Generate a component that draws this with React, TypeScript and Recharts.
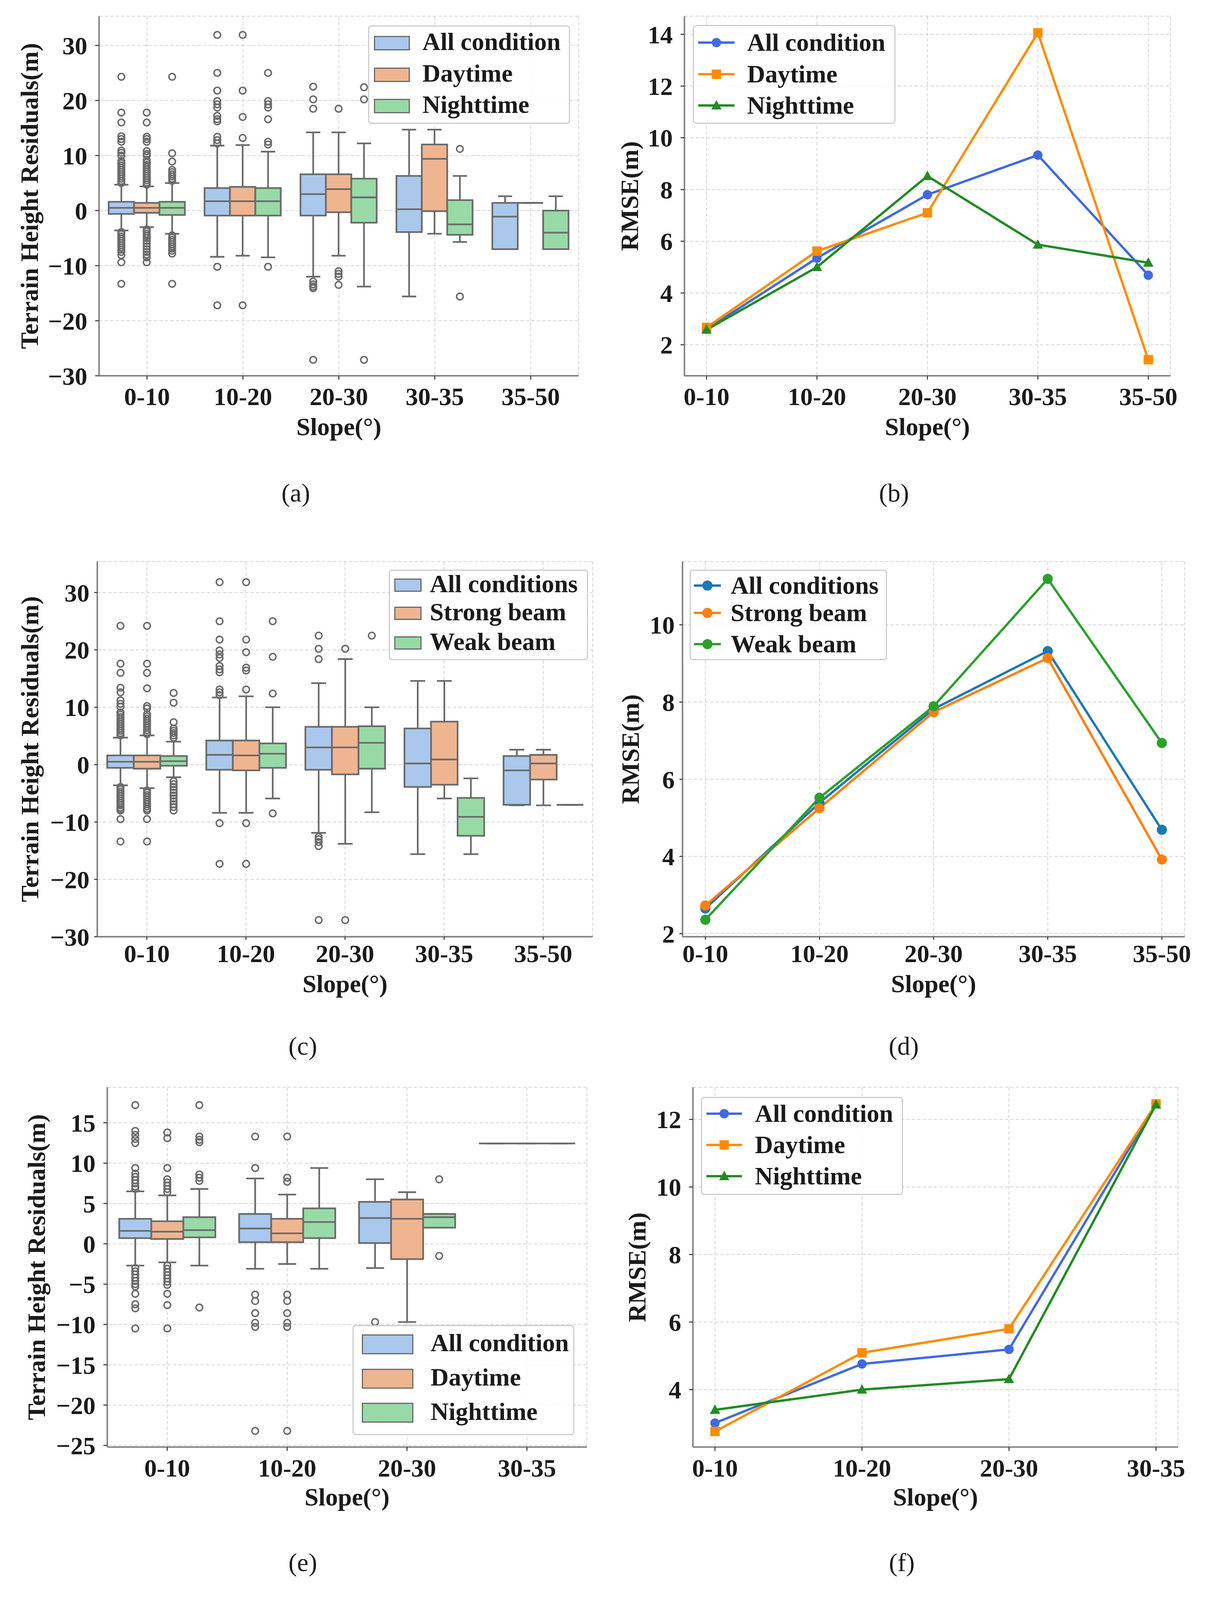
import React from "react";
import { ComposedChart, Bar, Line, XAxis, YAxis, CartesianGrid, Legend } from "recharts";

const FONT = "'Liberation Serif', 'Times New Roman', Times, serif";
const INK = "#1a1a1a";
const EDGE = "#6a6a6a";
const FRAME = "#858585";
const GRID = "#d4d4d4";
const FS = 64;

// ---------------- categories / names ----------------
const SLOPE5 = ["0-10", "10-20", "20-30", "30-35", "35-50"];
const SLOPE4 = ["0-10", "10-20", "20-30", "30-35"];
const NAMES_DN = ["All condition", "Daytime", "Nighttime"];
const NAMES_BEAM = ["All conditions", "Strong beam", "Weak beam"];
const PASTEL = ["#aac8eb", "#efb590", "#97daa6"];
const LINE_DN = ["#4169e1", "#ff8c00", "#228b22"];
const LINE_TAB = ["#1f77b4", "#ff7f0e", "#2ca02c"];

// ---------------- tick values ----------------
const TICKS_30 = [-30, -20, -10, 0, 10, 20, 30];
const TICKS_25 = [-25, -20, -15, -10, -5, 0, 5, 10, 15];
const TICKS_B = [2, 4, 6, 8, 10, 12, 14];
const TICKS_D = [2, 4, 6, 8, 10];
const TICKS_FH = [4, 6, 8, 10, 12];

// ---------------- (a) box stats: [whiskerLow, q1, median, q3, whiskerHigh] ----------------
const A_ALL = [[-3.6, -0.6, 0.5, 1.6, 4.7], [-8.4, -0.9, 1.7, 4.1, 11.8], [-12.0, -0.9, 3.0, 6.6, 14.2], [-15.6, -3.9, 0.25, 6.3, 14.7], [-7.0, -7.0, -1.1, 1.4, 2.6]];
const A_DAY = [[-3.0, -0.4, 0.5, 1.4, 4.4], [-8.2, -0.9, 1.7, 4.3, 11.9], [-8.2, -0.3, 3.9, 6.6, 14.2], [-4.2, -0.1, 9.4, 12.0, 14.7], [1.4, 1.4, 1.4, 1.4, 1.4]];
const A_NIGHT = [[-4.2, -0.8, 0.5, 1.6, 5.0], [-8.5, -0.9, 1.7, 4.1, 10.7], [-13.8, -2.2, 2.4, 5.8, 12.2], [-5.7, -4.4, -2.5, 1.9, 6.3], [-7.0, -7.0, -4.0, 0.0, 2.6]];
const A_ALL_OUT = [
  [24.3, 17.8, 16.0, 13.5, 13.0, 12.5, 10.9, 10.5, 10.0, 9.0, 8.6, 8.2, 7.8, 7.4, 7.0, 6.6, 6.2, 5.8, 5.4, 5.0, -3.9, -4.3, -4.7, -5.1, -5.5, -5.9, -6.3, -6.7, -7.1, -7.5, -8.1, -9.4, -13.3],
  [31.9, 25.0, 21.8, 19.9, 19.3, 18.7, 17.2, 16.6, 16.2, 13.4, 12.8, 12.2, -10.2, -17.2],
  [22.5, 20.2, 18.5, -12.9, -13.4, -13.8, -14.1, -27.1],
  [],
  [],
];
const A_DAY_OUT = [
  [17.8, 16.0, 13.4, 13.0, 12.5, 10.8, 10.3, 10.0, 9.2, 8.7, 8.3, 7.9, 7.5, 7.1, 6.7, 6.3, 5.9, 5.5, 5.1, 4.7, -3.4, -3.8, -4.2, -4.6, -5.0, -5.5, -6.0, -6.5, -7.0, -7.5, -8.0, -8.5, -9.4],
  [31.9, 21.8, 17.0, 13.2, -17.2],
  [18.5, -11.0, -11.5, -12.0, -13.5],
  [],
  [],
];
const A_NIGHT_OUT = [
  [24.3, 10.4, 8.9, 7.4, 7.0, 6.6, 6.2, 5.8, 5.4, -4.5, -4.9, -5.3, -5.7, -6.1, -6.5, -6.9, -7.3, -7.8, -13.3],
  [25.0, 19.9, 19.3, 18.7, 16.6, 12.5, 12.0, -10.2],
  [22.4, 20.2, -27.1],
  [11.2, -15.6],
  [],
];

// ---------------- (b) RMSE ----------------
const B_ALL = [2.6, 5.35, 7.8, 9.33, 4.69];
const B_DAY = [2.67, 5.62, 7.1, 14.06, 1.42];
const B_NIGHT = [2.58, 5.0, 8.52, 5.87, 5.17];

// ---------------- (c) box stats ----------------
const C_ALL = [[-3.6, -0.55, 0.5, 1.6, 4.7], [-8.4, -0.9, 1.7, 4.2, 11.7], [-11.9, -0.9, 3.0, 6.6, 14.2], [-15.6, -3.9, 0.2, 6.3, 14.6], [-7.1, -7.0, -1.0, 1.5, 2.6]];
const C_STRONG = [[-4.1, -0.7, 0.5, 1.6, 5.1], [-8.4, -1.0, 1.6, 4.2, 11.9], [-13.8, -1.7, 3.0, 6.6, 18.4], [-5.9, -3.5, 0.9, 7.5, 14.6], [-7.1, -2.6, 0.2, 1.7, 2.6]];
const C_WEAK = [[-2.2, -0.2, 0.6, 1.5, 4.0], [-5.9, -0.55, 1.9, 3.7, 10.0], [-8.3, -0.7, 3.8, 6.7, 10.0], [-15.6, -12.4, -9.1, -5.8, -2.4], [-7.0, -7.0, -7.0, -7.0, -7.0]];
const C_ALL_OUT = [
  [24.2, 17.6, 16.0, 13.4, 12.6, 11.2, 10.6, 10.1, 9.1, 8.7, 8.3, 7.9, 7.5, 7.1, 6.7, 6.3, 5.9, 5.5, 5.1, -3.9, -4.3, -4.7, -5.1, -5.5, -5.9, -6.3, -6.7, -7.1, -7.5, -7.8, -8.0, -9.5, -13.4],
  [31.8, 25.0, 21.8, 19.9, 19.2, 18.6, 17.2, 16.6, 16.1, 13.1, 12.6, 12.1, -10.2, -17.3],
  [22.5, 20.2, 18.4, -12.6, -13.0, -13.5, -14.2, -27.1],
  [],
  [],
];
const C_STRONG_OUT = [
  [24.2, 17.6, 16.0, 13.3, 10.2, 9.8, 8.8, 8.4, 8.0, 7.6, 7.2, 6.8, 6.4, 6.0, 5.6, 5.3, -4.5, -4.9, -5.3, -5.7, -6.1, -6.5, -6.9, -7.3, -7.7, -8.0, -9.5, -13.4],
  [31.8, 21.8, 19.6, 16.9, 16.4, 13.1, -10.2, -17.3],
  [20.2, -27.1],
  [],
  [],
];
const C_WEAK_OUT = [
  [12.5, 10.8, 7.4, 6.3, 5.9, 5.5, 5.1, 4.7, -2.9, -3.4, -3.9, -4.4, -4.9, -5.4, -5.9, -6.4, -6.9, -7.4, -8.0],
  [25.0, 18.8, 12.4, -8.5],
  [22.5],
  [],
  [],
];

// ---------------- (d) RMSE ----------------
const D_ALL = [2.65, 5.39, 7.82, 9.32, 4.69];
const D_STRONG = [2.73, 5.25, 7.74, 9.14, 3.92];
const D_WEAK = [2.36, 5.52, 7.89, 11.19, 6.94];

// ---------------- (e) box stats ----------------
const E_ALL = [[-2.7, 0.7, 1.6, 3.1, 6.5], [-3.1, 0.2, 1.9, 3.7, 8.1], [-3.0, 0.1, 3.2, 5.2, 8.0], [12.45, 12.45, 12.45, 12.45, 12.45]];
const E_DAY = [[-2.3, 0.6, 1.5, 2.8, 6.0], [-2.5, 0.2, 1.3, 3.1, 6.1], [-9.7, -1.9, 3.1, 5.5, 6.4], [12.45, 12.45, 12.45, 12.45, 12.45]];
const E_NIGHT = [[-2.7, 0.8, 1.7, 3.3, 6.8], [-3.1, 0.7, 2.7, 4.4, 9.4], [2.0, 2.0, 3.3, 3.7, 3.7], [12.45, 12.45, 12.45, 12.45, 12.45]];
const E_ALL_OUT = [
  [17.2, 14.0, 13.5, 13.0, 12.5, 9.4, 8.7, 8.3, 7.9, 7.5, 7.1, 6.8, -3.0, -3.4, -3.8, -4.2, -4.6, -5.0, -5.3, -6.2, -7.5, -8.0, -10.5],
  [13.3, 9.4, -6.3, -7.1, -8.6, -9.8, -10.3, -23.2],
  [-9.7],
  [],
];
const E_DAY_OUT = [
  [13.8, 13.1, 9.4, 8.0, 7.6, 7.2, 6.8, 6.4, -2.7, -3.1, -3.5, -3.9, -4.3, -4.7, -5.1, -6.2, -7.6, -10.5],
  [13.3, 8.2, 7.7, -6.3, -7.1, -8.6, -9.8, -10.3, -23.2],
  [],
  [],
];
const E_NIGHT_OUT = [
  [17.2, 13.3, 12.9, 12.6, 8.6, 8.2, 7.8, -7.9],
  [],
  [8.0, -1.5],
  [],
];

// ---------------- (f) RMSE ----------------
const F_ALL = [3.01, 4.76, 5.19, 12.46];
const F_DAY = [2.76, 5.09, 5.8, 12.46];
const F_NIGHT = [3.4, 4.0, 4.31, 12.44];

// ---------------- (g) box stats ----------------
const G_ALL = [[-2.6, 0.7, 1.55, 3.0, 6.5], [-3.1, 0.26, 1.9, 3.6, 8.1], [-3.0, 0.04, 3.2, 5.2, 8.0], [12.5, 12.5, 12.5, 12.5, 12.5]];
const G_STRONG = [[-2.7, 0.7, 1.55, 3.0, 6.5], [-3.1, 0.26, 2.0, 3.7, 8.1], [-1.5, 0.04, 1.95, 4.6, 6.5], [12.5, 12.5, 12.5, 12.5, 12.5]];
const G_WEAK = [[-1.8, 0.96, 1.7, 3.0, 6.0], [-2.5, 0.26, 1.5, 3.5, 8.0], [-3.0, 2.0, 4.1, 5.4, 8.0], null];
const G_ALL_OUT = [
  [17.3, 13.9, 13.4, 12.9, 12.4, 9.5, 8.7, 8.3, 7.9, 7.5, 7.1, 6.7, -2.9, -3.3, -3.7, -4.1, -4.5, -4.9, -5.3, -6.2, -7.6, -7.9, -10.5],
  [13.3, 9.5, -6.2, -6.8, -7.2, -8.6, -9.8, -10.3, -23.2],
  [-9.7],
  [],
];
const G_STRONG_OUT = [
  [17.3, 13.9, 13.4, 12.9, 12.4, 9.5, 8.7, 8.3, 7.9, 7.5, 7.1, 6.7, -3.0, -3.4, -3.8, -4.2, -4.6, -5.0, -5.3, -6.2, -7.6, -7.9, -10.5],
  [13.3, 9.5, -6.2, -6.8, -7.2, -8.6, -9.8, -10.3, -23.2],
  [-9.7],
  [],
];
const G_WEAK_OUT = [
  [12.7, 8.6, 8.2, 8.0, 6.9, 6.5],
  [],
  [],
  [],
];

// ---------------- (h) RMSE ----------------
const H_ALL = [3.0, 4.79, 5.19, 12.44];
const H_STRONG = [3.08, 5.19, 5.21, 12.44];
const H_WEAK = [2.79, 2.94, 5.17, null];

// ---------------- layout (page pixels) ----------------
const GEOM = {
  a: { left: 0, top: 0, width: 1540, height: 1200, x0: 253.5, y0: 41.5, x1: 1481, y1: 962, yLabelX: 75, xLabelY: 1092, ts: 10, tm: 20,
    lg: { x: 942, y: 65, w: 517, h: 252, rows: [107, 188, 268], px: 957, pw: 86, ph: 31, tx: 1081 }, cap: { x: 757, y: 1262, t: "(a)" } },
  b: { left: 1540, top: 0, width: 1544, height: 1200, x0: 1751.7, y0: 41.5, x1: 2995.4, y1: 962, yLabelX: 1611, xLabelY: 1092, ts: 10, tm: 20,
    lg: { x: 1772.5, y: 64, w: 519, h: 253, rows: [109, 190, 270], px: 1787, pw: 93, ph: 0, tx: 1912 }, cap: { x: 2288, y: 1262, t: "(b)" } },
  c: { left: 0, top: 1380, width: 1540, height: 1250, x0: 249, y0: 1437.6, x1: 1517, y1: 2398, yLabelX: 76.5, xLabelY: 2518, ts: 8, tm: 12,
    lg: { x: 995, y: 1457.5, w: 510, h: 232, rows: [1495, 1567, 1643], px: 1009, pw: 64, ph: 28, tx: 1100 }, cap: { x: 775, y: 2678, t: "(c)" } },
  d: { left: 1540, top: 1380, width: 1544, height: 1250, x0: 1746.8, y0: 1437.6, x1: 3032, y1: 2398, yLabelX: 1614, xLabelY: 2518, ts: 8, tm: 12,
    lg: { x: 1764.5, y: 1457.5, w: 505, h: 232, rows: [1499, 1569, 1649], px: 1776, pw: 69, ph: 0, tx: 1870 }, cap: { x: 2313, y: 2678, t: "(d)" } },
  e: { left: 0, top: 2730, width: 1540, height: 1250, x0: 274.5, y0: 2783.6, x1: 1502, y1: 3704.4, yLabelX: 93, xLabelY: 3832, ts: 10, tm: 20,
    lg: { x: 902, y: 3392, w: 568, h: 282, rows: [3438, 3526, 3613.5], px: 926, pw: 126, ph: 45, tx: 1102 }, cap: { x: 775, y: 4000, t: "(e)" } },
  f: { left: 1540, top: 2730, width: 1544, height: 1250, x0: 1773.4, y0: 2783.6, x1: 3015, y1: 3704.4, yLabelX: 1630.6, xLabelY: 3832, ts: 10, tm: 20,
    lg: { x: 1794, y: 2807.5, w: 517, h: 251, rows: [2851, 2931, 3011], px: 1808, pw: 91, ph: 0, tx: 1932 }, cap: { x: 2308, y: 4000, t: "(f)" } },
  g: { left: 0, top: 4050, width: 1540, height: 1250, x0: 249.7, y0: 4099.7, x1: 1516, y1: 5058.7, yLabelX: 81, xLabelY: 5181, ts: 8, tm: 12,
    lg: { x: 995, y: 4809, w: 510, h: 233, rows: [4855, 4925, 4996.5], px: 1009, pw: 64, ph: 24, tx: 1100 }, cap: { x: 773, y: 5334, t: "(g)" } },
  h: { left: 1540, top: 4050, width: 1544, height: 1250, x0: 1747.8, y0: 4099.7, x1: 3032, y1: 5058.7, yLabelX: 1614, xLabelY: 5178, ts: 8, tm: 12,
    lg: { x: 1764.5, y: 4115.6, w: 505, h: 233, rows: [4153, 4231, 4305], px: 1776, pw: 69, ph: 0, tx: 1870 }, cap: { x: 2311, y: 5334, t: "(h)" } },
};

const textStyle = { fontFamily: FONT, fontSize: FS, fontWeight: 700, fill: INK } as any;
const minus = (v: any) => String(v).replace("-", "\u2212");

function yLabel(text: string, cx: number) {
  return (props: any) => {
    const vb = props.viewBox || {};
    const cy = vb.y + vb.height / 2;
    return (
      <text x={cx} y={cy} transform={`rotate(-90 ${cx} ${cy})`} textAnchor="middle" dominantBaseline="central" style={textStyle}>
        {text}
      </text>
    );
  };
}
function xLabel(text: string, cy: number) {
  return (props: any) => {
    const vb = props.viewBox || {};
    const cx = vb.x + vb.width / 2;
    return (
      <text x={cx} y={cy} textAnchor="middle" dominantBaseline="central" style={textStyle}>
        {text}
      </text>
    );
  };
}

function marker(kind: string, cx: number, cy: number, color: string, s: number) {
  if (kind === "square") return <rect x={cx - s} y={cy - s} width={2 * s} height={2 * s} fill={color} />;
  if (kind === "triangle")
    return <path d={`M${cx},${cy - s * 1.15}L${cx + s * 1.1},${cy + s * 0.85}L${cx - s * 1.1},${cy + s * 0.85}Z`} fill={color} />;
  return <circle cx={cx} cy={cy} r={s} fill={color} />;
}

function boxShape(key: string, dmin: number, dmax: number, color: string) {
  return (props: any) => {
    const { x, y, width, height, payload } = props;
    const item = payload && payload[key];
    if (!item || !(height > 0)) return <g />;
    const py = (v: number) => y + ((dmax - v) / (dmax - dmin)) * height;
    const [lo, q1, med, q3, hi] = item.stats;
    const cx = x + width / 2;
    const ch = width * 0.28;
    const lw = 4.3;
    return (
      <g>
        <line x1={cx} x2={cx} y1={py(q3)} y2={py(hi)} stroke={EDGE} strokeWidth={lw} />
        <line x1={cx} x2={cx} y1={py(q1)} y2={py(lo)} stroke={EDGE} strokeWidth={lw} />
        <line x1={cx - ch} x2={cx + ch} y1={py(hi)} y2={py(hi)} stroke={EDGE} strokeWidth={lw} />
        <line x1={cx - ch} x2={cx + ch} y1={py(lo)} y2={py(lo)} stroke={EDGE} strokeWidth={lw} />
        <path d={`M${x},${py(q3)}H${x + width}V${py(q1)}H${x}Z`} fill={color} stroke={EDGE} strokeWidth={lw} />
        <line x1={x} x2={x + width} y1={py(med)} y2={py(med)} stroke={EDGE} strokeWidth={lw} />
        {item.out.map((v: number, i: number) => (
          <circle key={i} cx={cx} cy={py(v)} r={8.5} fill="none" stroke={EDGE} strokeWidth={3.8} />
        ))}
      </g>
    );
  };
}

function legendBox(g: any, names: string[], colors: string[], kind: "box" | "line", markers?: string[], msize?: number) {
  const L = g.lg;
  const content = () => (
    <div
      style={{
        position: "relative", width: L.w, height: L.h, boxSizing: "border-box",
        border: "3.5px solid #cdcdcd", borderRadius: 8, background: "rgba(255,255,255,0.85)",
      }}
    >
      {names.map((n, i) => {
        const rowTop = L.rows[i] - L.y;
        return (
          <React.Fragment key={n}>
            {kind === "box" ? (
              <div
                style={{
                  position: "absolute", left: L.px - L.x - 3, top: rowTop - L.ph / 2 - 3, width: L.pw, height: L.ph,
                  background: colors[i], border: `3.5px solid ${EDGE}`, boxSizing: "content-box",
                }}
              />
            ) : (
              <svg style={{ position: "absolute", left: L.px - L.x - 3, top: rowTop - 30 - 3 }} width={L.pw} height={60}>
                <line x1={0} x2={L.pw} y1={30} y2={30} stroke={colors[i]} strokeWidth={6} strokeLinecap="round" />
                {marker(markers![i], L.pw / 2, 30, colors[i], msize!)}
              </svg>
            )}
            <div
              style={{
                position: "absolute", left: L.tx - L.x - 3, top: rowTop - 40 - 3, height: 80, lineHeight: "80px",
                whiteSpace: "nowrap", fontFamily: FONT, fontSize: FS, fontWeight: 700, color: INK,
              }}
            >
              {n}
            </div>
          </React.Fragment>
        );
      })}
    </div>
  );
  return (
    <Legend
      layout="vertical"
      align="center"
      verticalAlign="middle"
      content={content}
      wrapperStyle={{ position: "absolute", left: L.x - g.left, top: L.y - g.top, width: L.w, height: L.h, margin: 0, padding: 0 }}
    />
  );
}

function frameAxes(xType: "category" | "number", xDomain: any, yDomain: number[]) {
  const line = { stroke: FRAME, strokeWidth: 4 };
  return [
    xType === "category" ? (
      <XAxis key="xt" xAxisId="top" orientation="top" dataKey="cat" height={0} tick={false} tickLine={false} axisLine={line} />
    ) : (
      <XAxis key="xt" xAxisId="top" orientation="top" type="number" dataKey="i" domain={xDomain} allowDataOverflow height={0} tick={false} tickLine={false} axisLine={line} />
    ),
    <YAxis key="yr" yAxisId="r" orientation="right" type="number" domain={yDomain} allowDataOverflow width={0} tick={false} tickLine={false} axisLine={line} />,
  ];
}

function Caption({ g }: any) {
  return (
    <div
      style={{
        position: "absolute", left: g.cap.x - 100, top: g.cap.y - 45, width: 200, height: 90, lineHeight: "90px",
        textAlign: "center", fontFamily: FONT, fontSize: 66, color: INK,
      }}
    >
      {g.cap.t}
    </div>
  );
}

function BoxPanel({ g, cats, names, stats, outs, domain, ticks }: any) {
  const rows = cats.map((c: string, i: number) => {
    const r: any = { cat: c };
    names.forEach((_: string, k: number) => {
      const s = stats[k][i];
      r["s" + k] = s ? { stats: s, out: outs[k][i] } : null;
    });
    return r;
  });
  const dmin = domain[0];
  const dmax = domain[1];
  const tickLine = { stroke: "#333", strokeWidth: 2.5 };
  return (
    <>
      <div style={{ position: "absolute", left: g.left, top: g.top }}>
        <ComposedChart
          width={g.width}
          height={g.height}
          data={rows}
          barGap={0}
          barCategoryGap="10%"
          margin={{ top: g.y0 - g.top, right: g.left + g.width - g.x1, bottom: 0, left: 0 }}
        >
          <CartesianGrid stroke={GRID} strokeWidth={2} strokeDasharray="9 5" />
          <XAxis
            dataKey="cat"
            type="category"
            interval={0}
            height={g.top + g.height - g.y1}
            tick={textStyle}
            tickSize={g.ts}
            tickMargin={g.tm}
            tickLine={tickLine}
            axisLine={{ stroke: FRAME, strokeWidth: 4 }}
            label={xLabel("Slope(°)", g.xLabelY - g.top)}
          />
          <YAxis
            type="number"
            domain={domain}
            allowDataOverflow
            ticks={ticks}
            interval={0}
            width={g.x0 - g.left}
            tick={textStyle}
            tickFormatter={minus}
            tickSize={g.ts}
            tickMargin={g.tm}
            tickLine={tickLine}
            axisLine={{ stroke: FRAME, strokeWidth: 4 }}
            label={yLabel("Terrain Height Residuals(m)", g.yLabelX - g.left)}
          />
          {frameAxes("category", null, domain)}
          {names.map((n: string, k: number) => (
            <Bar
              key={n}
              name={n}
              dataKey={(r: any) => (r["s" + k] ? [dmin, dmax] : null)}
              fill={PASTEL[k]}
              isAnimationActive={false}
              shape={boxShape("s" + k, dmin, dmax, PASTEL[k])}
            />
          ))}
          {legendBox(g, names, PASTEL, "box")}
        </ComposedChart>
      </div>
      <Caption g={g} />
    </>
  );
}

function LinePanel({ g, cats, names, colors, values, markers, msize, domain, ticks }: any) {
  const n = cats.length;
  const pad = 0.05 * (n - 1);
  const xDomain = [-pad, n - 1 + pad];
  const rows = cats.map((c: string, i: number) => {
    const r: any = { i, cat: c };
    values.forEach((v: any[], k: number) => (r["v" + k] = v[i]));
    return r;
  });
  const tickLine = { stroke: "#333", strokeWidth: 2.5 };
  return (
    <>
      <div style={{ position: "absolute", left: g.left, top: g.top }}>
        <ComposedChart
          width={g.width}
          height={g.height}
          data={rows}
          margin={{ top: g.y0 - g.top, right: g.left + g.width - g.x1, bottom: 0, left: 0 }}
        >
          <CartesianGrid stroke={GRID} strokeWidth={2} strokeDasharray="9 5" />
          <XAxis
            dataKey="i"
            type="number"
            domain={xDomain}
            allowDataOverflow
            ticks={cats.map((_: string, i: number) => i)}
            interval={0}
            tickFormatter={(v: number) => cats[Math.round(v)]}
            height={g.top + g.height - g.y1}
            tick={textStyle}
            tickSize={g.ts}
            tickMargin={g.tm}
            tickLine={tickLine}
            axisLine={{ stroke: FRAME, strokeWidth: 4 }}
            label={xLabel("Slope(°)", g.xLabelY - g.top)}
          />
          <YAxis
            type="number"
            domain={domain}
            allowDataOverflow
            ticks={ticks}
            interval={0}
            width={g.x0 - g.left}
            tick={textStyle}
            tickSize={g.ts}
            tickMargin={g.tm}
            tickLine={tickLine}
            axisLine={{ stroke: FRAME, strokeWidth: 4 }}
            label={yLabel("RMSE(m)", g.yLabelX - g.left)}
          />
          {frameAxes("number", xDomain, domain)}
          {names.map((nm: string, k: number) => (
            <Line
              key={nm}
              name={nm}
              dataKey={"v" + k}
              type="linear"
              stroke={colors[k]}
              strokeWidth={6}
              isAnimationActive={false}
              activeDot={false}
              dot={(p: any) =>
                p.cy == null || p.value == null ? (
                  <g key={"d" + k + "-" + p.index} />
                ) : (
                  <g key={"d" + k + "-" + p.index}>{marker(markers[k], p.cx, p.cy, colors[k], msize)}</g>
                )
              }
            />
          ))}
          {legendBox(g, names, colors, "line", markers, msize)}
        </ComposedChart>
      </div>
      <Caption g={g} />
    </>
  );
}

export default function App() {
  return (
    <div style={{ position: "relative", margin: -8, width: 3084, height: 5402, background: "#fff", fontFamily: FONT, overflow: "hidden" }}>
      <BoxPanel g={GEOM.a} cats={SLOPE5} names={NAMES_DN} stats={[A_ALL, A_DAY, A_NIGHT]} outs={[A_ALL_OUT, A_DAY_OUT, A_NIGHT_OUT]} domain={[-30, 35.3]} ticks={TICKS_30} />
      <LinePanel g={GEOM.b} cats={SLOPE5} names={NAMES_DN} colors={LINE_DN} values={[B_ALL, B_DAY, B_NIGHT]} markers={["circle", "square", "triangle"]} msize={12} domain={[0.8, 14.7]} ticks={TICKS_B} />
      <BoxPanel g={GEOM.c} cats={SLOPE5} names={NAMES_BEAM} stats={[C_ALL, C_STRONG, C_WEAK]} outs={[C_ALL_OUT, C_STRONG_OUT, C_WEAK_OUT]} domain={[-30, 35.4]} ticks={TICKS_30} />
      <LinePanel g={GEOM.d} cats={SLOPE5} names={NAMES_BEAM} colors={LINE_TAB} values={[D_ALL, D_STRONG, D_WEAK]} markers={["circle", "circle", "circle"]} msize={13} domain={[1.92, 11.64]} ticks={TICKS_D} />
      <BoxPanel g={GEOM.e} cats={SLOPE4} names={NAMES_DN} stats={[E_ALL, E_DAY, E_NIGHT]} outs={[E_ALL_OUT, E_DAY_OUT, E_NIGHT_OUT]} domain={[-25.2, 19.4]} ticks={TICKS_25} />
      <LinePanel g={GEOM.f} cats={SLOPE4} names={NAMES_DN} colors={LINE_DN} values={[F_ALL, F_DAY, F_NIGHT]} markers={["circle", "square", "triangle"]} msize={12} domain={[2.3, 12.95]} ticks={TICKS_FH} />
      <BoxPanel g={GEOM.g} cats={SLOPE4} names={NAMES_BEAM} stats={[G_ALL, G_STRONG, G_WEAK]} outs={[G_ALL_OUT, G_STRONG_OUT, G_WEAK_OUT]} domain={[-25.3, 19.3]} ticks={TICKS_25} />
      <LinePanel g={GEOM.h} cats={SLOPE4} names={NAMES_BEAM} colors={LINE_TAB} values={[H_ALL, H_STRONG, H_WEAK]} markers={["circle", "circle", "circle"]} msize={13} domain={[2.29, 12.93]} ticks={TICKS_FH} />
    </div>
  );
}
